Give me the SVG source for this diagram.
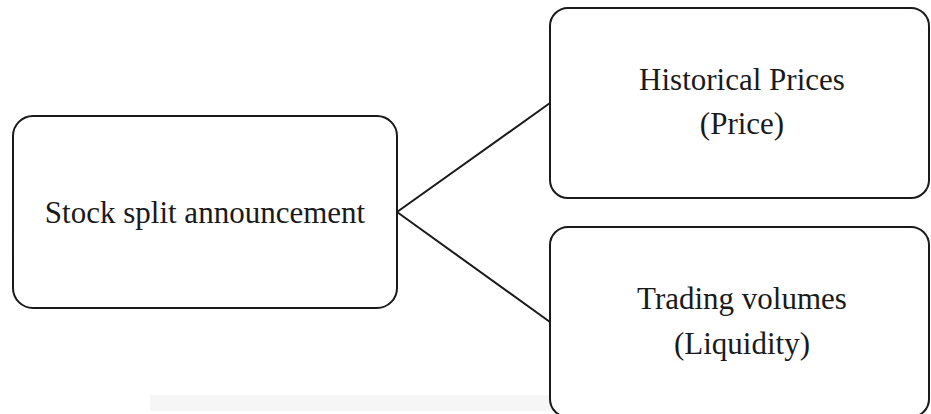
<svg xmlns="http://www.w3.org/2000/svg" width="931" height="414" viewBox="0 0 931 414">
<style>
.box{fill:#fff;stroke:#1a1a1a;stroke-width:2}
.lbl{font-family:"Liberation Serif","Times New Roman",serif;font-size:31px;fill:#1a1a1a;text-anchor:middle}
.conn{stroke:#1a1a1a;stroke-width:2;fill:none}
</style>
<rect x="0" y="0" width="931" height="414" fill="#fff"/>
<rect x="150" y="395" width="541" height="16" fill="#f6f6f6"/>
<g id="connectors">
<line class="conn" x1="397" y1="212" x2="550" y2="103"/>
<line class="conn" x1="397" y1="212" x2="550" y2="322"/>
</g>
<g id="node-announcement">
<rect class="box" x="13" y="116" width="384" height="192" rx="20"/>
<text class="lbl" x="205" y="223">Stock split announcement</text>
</g>
<g id="node-prices">
<rect class="box" x="550" y="8" width="379" height="190" rx="18"/>
<text class="lbl" x="742" y="90">Historical Prices</text>
<text class="lbl" x="742" y="134">(Price)</text>
</g>
<g id="node-volumes">
<rect class="box" x="550" y="227" width="379" height="190" rx="18"/>
<text class="lbl" x="742" y="309">Trading volumes</text>
<text class="lbl" x="742" y="354">(Liquidity)</text>
</g>
</svg>
